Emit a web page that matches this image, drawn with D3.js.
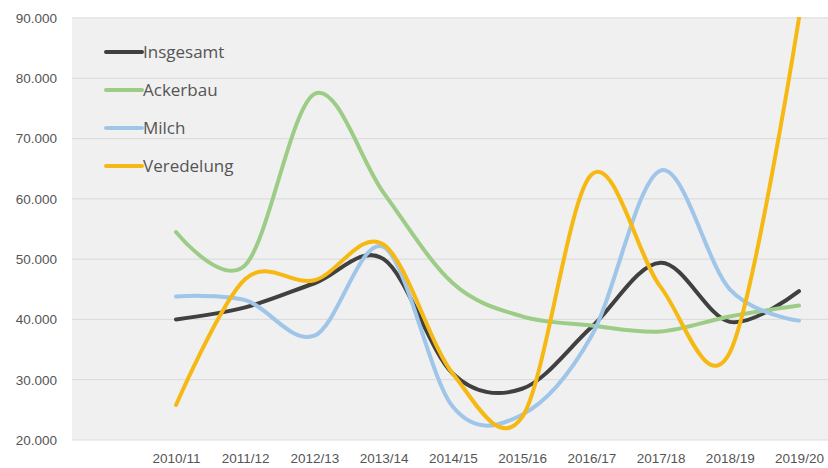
<!DOCTYPE html>
<html><head><meta charset="utf-8">
<script src="https://cdn.jsdelivr.net/npm/d3@7"></script>
<style>body{margin:0;background:#fff;}svg{display:block;font-family:"Open Sans",Lato,sans-serif;}</style>
</head><body><svg id="c" width="828" height="468"></svg>
<script>
const categories = ["2010/11","2011/12","2012/13","2013/14","2014/15","2015/16","2016/17","2017/18","2018/19","2019/20"];
const insgesamt  = [40000, 42000, 46000, 50000, 31000, 28500, 38700, 49400, 39600, 44700];
const ackerbau   = [54500, 49000, 77400, 61000, 46000, 40500, 39000, 38000, 40500, 42300];
const milch      = [43800, 43200, 37300, 52000, 25500, 24200, 37200, 64700, 45000, 39800];
const veredelung = [25800, 46700, 46500, 52400, 31000, 23800, 64000, 45400, 34500, 90000];
const yTicks = [20000,30000,40000,50000,60000,70000,80000,90000];
const seriesNames = ["Insgesamt","Ackerbau","Milch","Veredelung"];
const seriesColors = ["#404040","#9ccc85","#9fc5e8","#f6b913"];
const seriesData = [insgesamt, ackerbau, milch, veredelung];

const svg = d3.select("#c");
const plotL = 72, plotR = 828, plotT = 17, plotB = 440;
const x = d3.scalePoint().domain(categories).range([176, 799]);
const y = d3.scaleLinear().domain([20000, 90000]).range([plotB, 18]);

svg.append("rect").attr("x", plotL).attr("y", plotT).attr("width", plotR - plotL).attr("height", plotB - plotT).attr("fill", "#f0f0f0");

const fmt = d => d3.format(",")(d).replace(/,/g, ".");
svg.append("g").selectAll("line").data(yTicks).join("line")
  .attr("x1", plotL).attr("x2", plotR).attr("y1", d => y(d)).attr("y2", d => y(d))
  .attr("stroke", "#dddddd").attr("stroke-width", 1.2);

const yAxis = svg.append("g").attr("transform", `translate(${plotL},0)`)
  .call(d3.axisLeft(y).tickValues(yTicks).tickFormat(fmt).tickSize(0).tickPadding(15));
yAxis.select(".domain").remove();
yAxis.selectAll("text").attr("fill", "#555").style("font-size", "13.5px");

const xAxis = svg.append("g").attr("transform", `translate(0,${plotB})`)
  .call(d3.axisBottom(x).tickSize(0).tickPadding(13));
xAxis.select(".domain").remove();
xAxis.selectAll("text").attr("fill", "#555").style("font-size", "13.5px");

const line = d3.line().x((d, i) => x(categories[i])).y(d => y(d)).curve(d3.curveCardinal.tension(0));
const clip = svg.append("clipPath").attr("id", "pc").append("rect")
  .attr("x", plotL).attr("y", plotT).attr("width", plotR - plotL).attr("height", plotB - plotT + 2);
const lines = svg.append("g").attr("clip-path", "url(#pc)");
seriesData.forEach((s, k) => {
  lines.append("path").datum(s).attr("d", line).attr("fill", "none")
    .attr("stroke", seriesColors[k]).attr("stroke-width", 4).attr("stroke-linecap", "round");
});

const leg = svg.append("g");
seriesNames.forEach((n, k) => {
  const yy = 52 + k * 38;
  leg.append("line").attr("x1", 106).attr("x2", 142).attr("y1", yy).attr("y2", yy)
    .attr("stroke", seriesColors[k]).attr("stroke-width", 4).attr("stroke-linecap", "round");
  leg.append("text").attr("x", 143).attr("y", yy).attr("dy", "0.35em")
    .attr("fill", "#555").style("font-size", "17px").text(n);
});
</script></body></html>
